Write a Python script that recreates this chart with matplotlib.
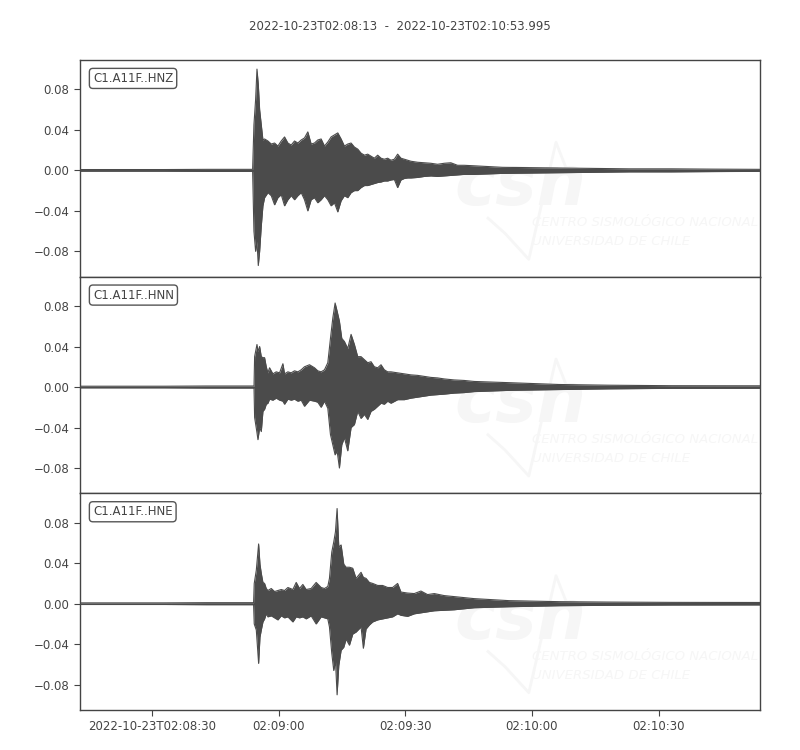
import numpy as np
import matplotlib.pyplot as plt

# trace envelope: time in s after 2022-10-23T02:08:13
t_hnz = [0, 20, 30, 40.87, 41.18, 41.58, 41.9, 42.21, 42.53, 42.92, 43.31, 43.7,
         44.49, 45.28, 46.07, 46.85, 47.64, 48.43, 49.22, 50.0, 50.79, 51.58,
         52.37, 53.15, 53.94, 54.73, 55.52, 56.3, 57.09, 57.88, 58.67, 59.45,
         60.24, 61.03, 61.82, 62.6, 63.39, 64.18, 64.97, 65.75, 66.54, 67.33,
         68.12, 68.9, 69.69, 70.48, 71.27, 72.05, 72.84, 73.63, 74.42, 75.2,
         75.99, 76.78, 77.57, 78.35, 79.93, 81.5, 83.08, 84.65, 86.23, 87.8,
         89.38, 90.95, 93.32, 100, 110, 120, 130, 140, 150, 161]
up_hnz = [0.0008, 0.0008, 0.001, 0.001, 0.045, 0.07, 0.1, 0.085, 0.06, 0.045, 0.03, 0.031,
          0.029, 0.026, 0.027, 0.024, 0.029, 0.033, 0.027, 0.025, 0.029, 0.027,
          0.030, 0.032, 0.038, 0.026, 0.027, 0.030, 0.031, 0.024, 0.028, 0.033,
          0.035, 0.037, 0.031, 0.024, 0.026, 0.027, 0.023, 0.021, 0.017, 0.015,
          0.016, 0.014, 0.012, 0.015, 0.012, 0.011, 0.012, 0.010, 0.011, 0.016,
          0.012, 0.011, 0.010, 0.009, 0.008, 0.0075, 0.007, 0.006, 0.007, 0.0075,
          0.005, 0.005, 0.0045, 0.003, 0.0025, 0.002, 0.0015, 0.0015, 0.0012, 0.001]
lo_hnz = [-0.0008, -0.0008, -0.001, -0.001, -0.06, -0.08, -0.07, -0.094, -0.08, -0.055, -0.035, -0.027,
          -0.022, -0.025, -0.034, -0.027, -0.024, -0.035, -0.029, -0.025, -0.029, -0.025,
          -0.022, -0.029, -0.040, -0.029, -0.027, -0.032, -0.029, -0.025, -0.029, -0.035,
          -0.032, -0.041, -0.030, -0.025, -0.027, -0.022, -0.020, -0.020, -0.017, -0.015,
          -0.015, -0.014, -0.013, -0.012, -0.0115, -0.0105, -0.0105, -0.0095, -0.009, -0.017,
          -0.0095, -0.008, -0.0075, -0.0075, -0.007, -0.006, -0.0055, -0.006, -0.0055, -0.005,
          -0.0045, -0.004, -0.004, -0.003, -0.0025, -0.002, -0.0015, -0.0015, -0.0012, -0.001]

t_hnn = [0, 20, 30, 41.2, 41.34, 41.9, 42.13, 42.53, 42.92, 43.31, 43.7, 44.1,
         44.49, 44.88, 45.67, 46.46, 47.25, 48.04, 48.43, 49.22, 50.0, 50.79,
         51.58, 52.37, 53.15, 54.34, 55.52, 56.3, 57.09, 57.88, 58.67, 59.3,
         59.85, 60.4, 60.87, 61.42, 61.98, 62.6, 63.39, 64.18, 64.97, 65.75,
         66.54, 67.33, 68.12, 68.9, 69.69, 70.48, 71.27, 72.05, 72.84, 73.63,
         75.2, 76.78, 78.35, 79.93, 81.5, 83.08, 84.65, 86.23, 88.59, 90.95,
         93.32, 101.6, 113.4, 125.2, 140, 161]
up_hnn = [0.0008, 0.0008, 0.001, 0.001, 0.03, 0.042, 0.035, 0.040, 0.03, 0.029, 0.029, 0.020,
          0.014, 0.019, 0.013, 0.015, 0.014, 0.023, 0.013, 0.015, 0.014, 0.016,
          0.015, 0.017, 0.020, 0.022, 0.019, 0.016, 0.015, 0.017, 0.024, 0.048,
          0.068, 0.083, 0.075, 0.065, 0.048, 0.045, 0.038, 0.052, 0.042, 0.030,
          0.030, 0.027, 0.024, 0.025, 0.020, 0.019, 0.022, 0.017, 0.015, 0.015,
          0.014, 0.013, 0.012, 0.0115, 0.0105, 0.0095, 0.009, 0.008, 0.007, 0.0065,
          0.0055, 0.0043, 0.0025, 0.0018, 0.0013, 0.0012]
lo_hnn = [-0.0008, -0.0008, -0.001, -0.001, -0.03, -0.045, -0.052, -0.04, -0.044, -0.024, -0.022, -0.017,
          -0.016, -0.012, -0.013, -0.011, -0.013, -0.014, -0.017, -0.012, -0.013, -0.012,
          -0.014, -0.013, -0.019, -0.013, -0.014, -0.015, -0.020, -0.014, -0.021, -0.047,
          -0.057, -0.067, -0.063, -0.080, -0.057, -0.050, -0.063, -0.040, -0.037, -0.024,
          -0.031, -0.027, -0.032, -0.024, -0.022, -0.019, -0.016, -0.017, -0.014, -0.016,
          -0.0125, -0.0125, -0.011, -0.010, -0.009, -0.008, -0.0075, -0.007, -0.006, -0.0055,
          -0.0045, -0.0033, -0.0025, -0.0018, -0.0013, -0.0012]

t_hne = [0, 20, 30, 41.1, 41.25, 41.74, 42.29, 42.61, 42.92, 43.31, 43.7, 44.1,
         44.49, 45.28, 46.07, 46.85, 47.64, 48.43, 49.22, 50.4, 51.19, 51.97,
         52.76, 53.55, 54.73, 55.91, 57.09, 57.88, 58.67, 59.06, 59.61, 60.08,
         60.48, 60.87, 61.27, 61.82, 62.45, 63.0, 63.79, 64.57, 65.36, 66.54,
         67.09, 67.72, 68.51, 69.3, 70.48, 71.66, 72.84, 74.02, 75.2, 75.99,
         77.57, 79.14, 80.72, 82.29, 83.87, 86.23, 88.59, 90.95, 93.32, 101.6,
         113.4, 125.2, 140, 161]
up_hne = [0.0008, 0.0008, 0.001, 0.001, 0.02, 0.033, 0.059, 0.039, 0.030, 0.021, 0.020, 0.015,
          0.013, 0.015, 0.012, 0.013, 0.014, 0.013, 0.016, 0.014, 0.021, 0.015,
          0.019, 0.014, 0.015, 0.021, 0.016, 0.015, 0.017, 0.025, 0.051, 0.061,
          0.071, 0.094, 0.056, 0.058, 0.039, 0.036, 0.036, 0.035, 0.025, 0.031,
          0.026, 0.025, 0.021, 0.020, 0.018, 0.018, 0.016, 0.016, 0.020, 0.0115,
          0.0105, 0.010, 0.0125, 0.009, 0.010, 0.008, 0.007, 0.006, 0.005, 0.003,
          0.002, 0.0016, 0.0013, 0.0012]
lo_hne = [-0.0008, -0.0008, -0.001, -0.001, -0.02, -0.026, -0.059, -0.033, -0.026, -0.018, -0.015, -0.010,
          -0.013, -0.012, -0.014, -0.016, -0.012, -0.014, -0.013, -0.018, -0.013, -0.014,
          -0.013, -0.015, -0.012, -0.020, -0.013, -0.014, -0.015, -0.023, -0.049, -0.066,
          -0.056, -0.090, -0.061, -0.046, -0.043, -0.035, -0.041, -0.030, -0.028, -0.023,
          -0.044, -0.025, -0.021, -0.018, -0.016, -0.015, -0.014, -0.013, -0.010, -0.0115,
          -0.0125, -0.010, -0.009, -0.008, -0.007, -0.0065, -0.006, -0.005, -0.004, -0.003,
          -0.002, -0.0016, -0.0013, -0.0012]

labels = ['C1.A11F..HNZ', 'C1.A11F..HNN', 'C1.A11F..HNE']
traces = [(t_hnz, up_hnz, lo_hnz), (t_hnn, up_hnn, lo_hnn), (t_hne, up_hne, lo_hne)]

xtick_pos = [17, 47, 77, 107, 137]
xtick_lab = ['2022-10-23T02:08:30', '02:09:00', '02:09:30', '02:10:00', '02:10:30']
ytick_pos = [-0.08, -0.04, 0.0, 0.04, 0.08]

col = '#4b4b4b'
wm = '#f6f6f6'
fig = plt.figure(figsize=(8, 7.5), dpi=100)
fig.suptitle('2022-10-23T02:08:13  -  2022-10-23T02:10:53.995', y=0.973,
             fontsize=8.5, color='#444444')

h = 650 / 3
for i, (t, up, lo) in enumerate(traces):
    bottom = (750 - 60 - h * (i + 1)) / 750
    ax = fig.add_axes([80 / 800, bottom, 680 / 800, h / 750])
    ax.fill_between(t, lo, up, color=col, lw=0, zorder=3)
    ax.plot(t, up, color=col, lw=0.8, zorder=3)
    ax.plot(t, lo, color=col, lw=0.8, zorder=3)
    # faint CSN watermark
    ax.text(0.55, 0.33, 'csn', transform=ax.transAxes, fontsize=50, fontweight='bold',
            style='italic', color=wm, zorder=1)
    ax.plot([0.6, 0.625, 0.66, 0.7, 0.73], [0.27, 0.2, 0.08, 0.62, 0.38],
            transform=ax.transAxes, color=wm, lw=2, zorder=1)
    ax.text(0.665, 0.205, 'CENTRO SISMOLÓGICO NACIONAL\nUNIVERSIDAD DE CHILE',
            transform=ax.transAxes, fontsize=9.5, style='italic', color=wm,
            va='center', zorder=1, linespacing=1.6, clip_on=True)
    ax.text(0.019, 0.915, labels[i], transform=ax.transAxes, fontsize=8.5, color='#444444',
            va='center', ha='left', zorder=5,
            bbox=dict(boxstyle='round,pad=0.3', fc='white', ec='#555555', lw=1))
    ax.set_xlim(0, 160.995)
    ax.set_ylim(-0.105, 0.109)
    ax.set_yticks(ytick_pos)
    ax.set_yticklabels(['%.2f' % v if v >= 0 else '\u2212%.2f' % -v for v in ytick_pos])
    ax.set_xticks(xtick_pos)
    if i == 2:
        ax.set_xticklabels(xtick_lab)
    else:
        ax.tick_params(axis='x', bottom=False, labelbottom=False)
    ax.tick_params(labelsize=8.5, colors='#444444', length=4, width=0.8)
    for s in ax.spines.values():
        s.set_color('#444444')
        s.set_linewidth(1)

plt.savefig('out.png')
